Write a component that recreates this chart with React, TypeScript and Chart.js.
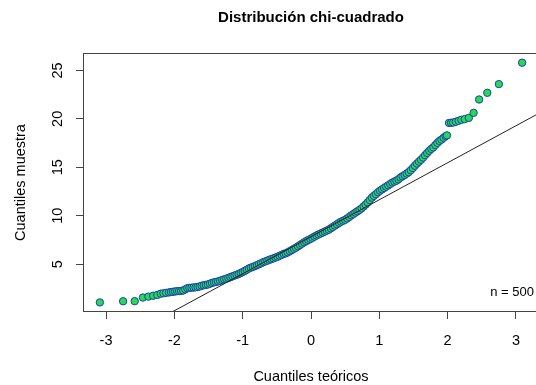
import React, { useEffect, useRef } from "react";
import { Chart, registerables } from "chart.js";

Chart.register(...registerables);

const chartTitle = "Distribución chi-cuadrado";
const xAxisTitle = "Cuantiles teóricos";
const yAxisTitle = "Cuantiles muestra";
const legendText = "n = 500";

const xTicks = [-3, -2, -1, 0, 1, 2, 3];
const xTickLabels = ["-3", "-2", "-1", "0", "1", "2", "3"];
const yTicks = [5, 10, 15, 20, 25];
const yTickLabels = ["5", "10", "15", "20", "25"];

const xLimits = [-3.337, 3.337];
const yLimits = [0.06, 26.8];

// qqline (through the quartiles)
const qqIntercept = 7.83;
const qqSlope = 3.82;

// theoretical quantiles (x) and sample quantiles (y)
const theoreticalQuantiles = [
  -3.09, -2.75, -2.58, -2.46, -2.38, -2.31, -2.25, -2.2, -2.16, -2.12, -2.08, -2.05, -2.02, -1.99, -1.96, -1.93,
  -1.9, -1.87, -1.84, -1.81, -1.78, -1.75, -1.72, -1.69, -1.66, -1.63, -1.6, -1.57, -1.54, -1.51, -1.48, -1.45,
  -1.42, -1.39, -1.36, -1.33, -1.3, -1.27, -1.24, -1.21, -1.18, -1.15, -1.12, -1.09, -1.06, -1.03, -1.0, -0.97,
  -0.94, -0.91, -0.88, -0.85, -0.82, -0.79, -0.76, -0.73, -0.7, -0.67, -0.64, -0.61, -0.58, -0.55, -0.52, -0.49,
  -0.46, -0.43, -0.4, -0.37, -0.34, -0.31, -0.28, -0.25, -0.22, -0.19, -0.16, -0.13, -0.1, -0.07, -0.04, -0.01,
  0.02, 0.05, 0.08, 0.11, 0.14, 0.17, 0.2, 0.23, 0.26, 0.29, 0.32, 0.35, 0.38, 0.41, 0.44, 0.47,
  0.5, 0.53, 0.56, 0.59, 0.62, 0.65, 0.68, 0.71, 0.74, 0.77, 0.8, 0.83, 0.86, 0.89, 0.92, 0.95,
  0.98, 1.01, 1.04, 1.07, 1.1, 1.13, 1.16, 1.19, 1.22, 1.25, 1.28, 1.31, 1.34, 1.37, 1.4, 1.43,
  1.46, 1.49, 1.52, 1.55, 1.58, 1.61, 1.64, 1.67, 1.7, 1.73, 1.76, 1.79, 1.82, 1.85, 1.88, 1.91,
  1.94, 1.97, 1.99, 2.02, 2.05, 2.08, 2.12, 2.16, 2.2, 2.25, 2.31, 2.38, 2.46, 2.58, 2.75, 3.09,
];
const sampleQuantiles = [
  1.05, 1.17, 1.18, 1.55, 1.65, 1.74, 1.82, 1.95, 1.99, 2.04, 2.08, 2.12, 2.15, 2.18, 2.21, 2.22,
  2.24, 2.28, 2.4, 2.52, 2.55, 2.57, 2.59, 2.61, 2.64, 2.7, 2.77, 2.82, 2.86, 2.9, 2.98, 3.06,
  3.12, 3.17, 3.22, 3.28, 3.36, 3.43, 3.5, 3.58, 3.66, 3.74, 3.82, 3.9, 3.98, 4.08, 4.18, 4.3,
  4.42, 4.55, 4.64, 4.72, 4.8, 4.9, 5.0, 5.1, 5.2, 5.28, 5.36, 5.45, 5.52, 5.6, 5.68, 5.76,
  5.86, 5.96, 6.05, 6.12, 6.22, 6.34, 6.46, 6.58, 6.7, 6.84, 6.98, 7.12, 7.26, 7.38, 7.5, 7.6,
  7.72, 7.84, 7.96, 8.06, 8.16, 8.26, 8.36, 8.46, 8.56, 8.7, 8.84, 8.98, 9.12, 9.26, 9.38, 9.48,
  9.58, 9.72, 9.88, 10.04, 10.18, 10.32, 10.46, 10.6, 10.76, 10.95, 11.15, 11.38, 11.62, 11.86, 12.05, 12.22,
  12.42, 12.58, 12.72, 12.86, 13.0, 13.14, 13.28, 13.42, 13.52, 13.62, 13.76, 13.94, 14.08, 14.2, 14.35, 14.5,
  14.7, 14.92, 15.16, 15.38, 15.58, 15.78, 16.0, 16.25, 16.48, 16.7, 16.9, 17.06, 17.3, 17.52, 17.72, 17.86,
  18.05, 18.2, 18.3, 19.58, 19.6, 19.62, 19.7, 19.8, 19.9, 19.98, 20.1, 20.62, 22.0, 22.69, 23.59, 25.8,
];

const FONT = "'Liberation Sans', Arial, Helvetica, sans-serif";

const decorPlugin = {
  id: "rDecor",
  afterDraw(chart: any) {
    const { ctx, chartArea: a } = chart;
    ctx.save();
    ctx.strokeStyle = "#444";
    ctx.lineWidth = 1;
    ctx.strokeRect(a.left + 0.5, a.top + 0.5, a.right - a.left - 1, a.bottom - a.top - 1);

    const cx = (a.left + a.right) / 2;
    ctx.fillStyle = "#000";
    ctx.textBaseline = "middle";
    ctx.textAlign = "center";
    ctx.font = `bold 15px ${FONT}`;
    ctx.fillText(chartTitle, cx, 18);

    ctx.font = `14.5px ${FONT}`;
    ctx.fillText(xAxisTitle, cx, 377);

    ctx.save();
    ctx.translate(20.5, (a.top + a.bottom) / 2);
    ctx.rotate(-Math.PI / 2);
    ctx.fillText(yAxisTitle, 0, 0);
    ctx.restore();

    ctx.font = `13px ${FONT}`;
    ctx.textAlign = "right";
    ctx.fillText(legendText, a.right - 5, a.bottom - 20);
    ctx.restore();
  },
};

export default function App() {
  const ref = useRef<HTMLCanvasElement | null>(null);

  useEffect(() => {
    const canvas = ref.current;
    if (!canvas) return;
    const points = theoreticalQuantiles.map((x, i) => ({ x, y: sampleQuantiles[i] }));
    const linePts = xLimits.map((x) => ({ x, y: qqIntercept + qqSlope * x }));

    const gridOpts = {
      display: true,
      drawOnChartArea: false,
      drawTicks: true,
      tickLength: 7,
      color: "#444",
      tickColor: "#444",
      lineWidth: 1,
    };

    const chart = new Chart(canvas, {
      type: "scatter",
      data: {
        datasets: [
          {
            type: "line",
            data: linePts,
            borderColor: "#222",
            borderWidth: 1,
            pointRadius: 0,
            fill: false,
            order: 0,
          } as any,
          {
            type: "scatter",
            data: points,
            backgroundColor: "#27dc4a",
            borderColor: "#1d3cc0",
            borderWidth: 1,
            pointRadius: 3.7,
            order: 1,
          },
        ],
      },
      options: {
        responsive: false,
        maintainAspectRatio: false,
        animation: false,
        devicePixelRatio: 1,
        layout: { padding: { top: 53, right: 21, bottom: 0, left: 0 } },
        plugins: {
          legend: { display: false },
          tooltip: { enabled: false },
          title: { display: false },
        },
        scales: {
          x: {
            type: "linear",
            min: xLimits[0],
            max: xLimits[1],
            grid: gridOpts,
            border: { display: false },
            afterBuildTicks: (s: any) => {
              s.ticks = xTicks.map((v) => ({ value: v }));
            },
            afterFit: (s: any) => {
              s.height = 73;
            },
            ticks: {
              padding: 13,
              color: "#000",
              font: { family: FONT, size: 14.5 },
              maxRotation: 0,
              autoSkip: false,
              callback: (v: any) => xTickLabels[xTicks.indexOf(Number(v))] ?? "",
            },
          },
          y: {
            type: "linear",
            min: yLimits[0],
            max: yLimits[1],
            grid: gridOpts,
            border: { display: false },
            afterBuildTicks: (s: any) => {
              s.ticks = yTicks.map((v) => ({ value: v }));
            },
            afterFit: (s: any) => {
              s.width = 83;
            },
            ticks: {
              padding: 10,
              color: "#000",
              font: { family: FONT, size: 14.5 },
              minRotation: 90,
              maxRotation: 90,
              crossAlign: "center",
              autoSkip: false,
              callback: (v: any) => yTickLabels[yTicks.indexOf(Number(v))] ?? "",
            },
          },
        },
      },
      plugins: [decorPlugin],
    });

    return () => chart.destroy();
  }, []);

  return (
    <div
      style={{
        position: "fixed",
        left: 0,
        top: 0,
        width: 536,
        height: 385,
        overflow: "hidden",
        background: "#fff",
      }}
    >
      <canvas ref={ref} width={560} height={385} style={{ display: "block", width: 560, height: 385 }} />
    </div>
  );
}
